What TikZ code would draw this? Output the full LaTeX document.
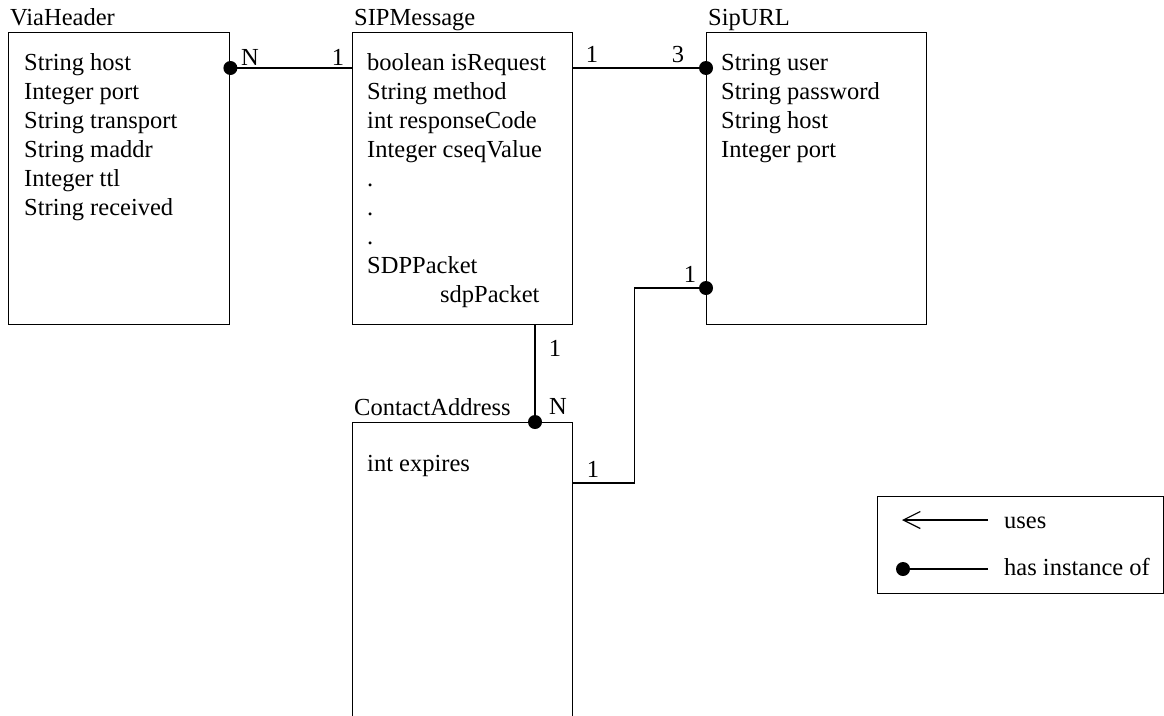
\documentclass[tikz,border=0pt]{standalone}
\usepackage{fontspec}
\setmainfont{Liberation Serif}
\usetikzlibrary{arrows.meta}
\begin{document}
\begin{tikzpicture}[x=1pt, y=-1pt,
  txt/.style={inner sep=0pt, font=\fontsize{24.5}{29}\selectfont},
  entity/.style={draw, line width=1.4pt, inner sep=0pt, anchor=north west, minimum width=220pt},
  title/.style={txt, anchor=base west},
  attrs/.style={txt, anchor=base west},
  card/.style={txt, anchor=base},
  link/.style={line width=1.4pt},
  dotr/.style={radius=7pt}]
\useasboundingbox (0,0) rectangle (1164,715);

% classes
\node[entity, minimum width=221pt, minimum height=292pt] (via) at (8,32) {};
\node[entity, minimum height=292pt] (sip) at (352,32) {};
\node[entity, minimum height=292pt] (url) at (706,32) {};
\node[entity, minimum height=330pt] (contact) at (352,422) {};

% class names
\node[title] (via-t) at (10,25) {ViaHeader};
\node[title] (sip-t) at (354,25) {SIPMessage};
\node[title] (url-t) at (708,25) {SipURL};
\node[title] (contact-t) at (354,415) {ContactAddress};

% attributes
\node[attrs] (via-a) at (24,70) {\parbox[t]{200pt}{\raggedright
  String host\\Integer port\\String transport\\String maddr\\Integer ttl\\String received}};
\node[attrs] (sip-a) at (367,70) {\parbox[t]{200pt}{\raggedright
  boolean isRequest\\String method\\int responseCode\\Integer cseqValue\\.\\.\\.\\SDPPacket\\\hspace*{73pt}sdpPacket}};
\node[attrs] (url-a) at (721,70) {\parbox[t]{200pt}{\raggedright
  String user\\String password\\String host\\Integer port}};
\node[attrs] (contact-a) at (367,471) {int expires};

% associations
\draw[link] (via.north east) ++(0,36) coordinate (via-p) -- (sip.west |- via-p) coordinate (sip-p);
\fill (via-p) circle[dotr];

\draw[link] (sip.north east) ++(0,36) coordinate (sip-q) -- (url.west |- sip-q) coordinate (url-q);
\fill (url-q) circle[dotr];

\draw[link] (sip.south west) ++(183,0) coordinate (sip-b) -- (contact.north west -| sip-b) coordinate (con-top);
\fill (con-top) circle[dotr];

\draw[link] (contact.north east) ++(0,61) coordinate (con-r) -- ++(61,0) coordinate (bend)
  |- (url.west |- 0,288) coordinate (url-r);
\fill (url-r) circle[dotr];

% multiplicities
\node[card] (m1) at (250,65) {N};
\node[card] (m2) at (338,65) {1};
\node[card] (m3) at (592,62) {1};
\node[card] (m4) at (678,62) {3};
\node[card] (m5) at (555,356) {1};
\node[card] (m6) at (558,414) {N};
\node[card] (m7) at (690,282) {1};
\node[card] (m8) at (593,477) {1};

% legend
\node[draw, line width=1.4pt, inner sep=0pt, anchor=north west,
      minimum width=285.5pt, minimum height=97pt] (legend) at (877,496) {};
\coordinate (uses-a) at (988,520);
\coordinate (uses-b) at (902,520);
\draw[line width=1.2pt, -{Straight Barb[length=17pt, width=17pt, line width=1.2pt]}] (uses-a) -- (uses-b);
\node[title] (uses-l) at (1004,528) {uses};
\coordinate (has-a) at (988,569);
\coordinate (has-b) at (903,569);
\draw[line width=1.2pt] (has-a) -- (has-b);
\fill (has-b) circle[dotr];
\node[title] (has-l) at (1004,575) {has instance of};
\end{tikzpicture}
\end{document}
